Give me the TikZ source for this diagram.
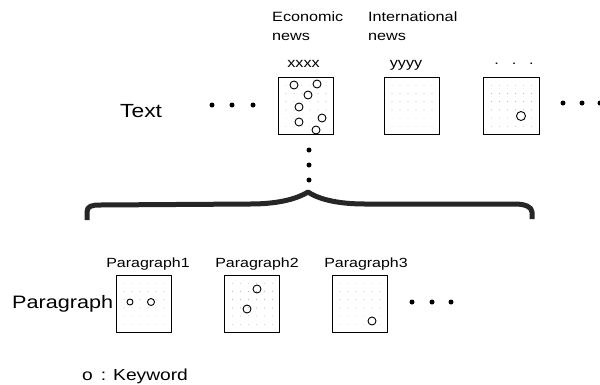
\documentclass[tikz,border=0pt]{standalone}
\usepackage{fontspec}
\setmainfont{Liberation Sans}[FakeStretch=1.2]
\usetikzlibrary{calc}
\begin{document}
\begin{tikzpicture}[x=1pt,y=-1pt,
  tbox/.style={draw, line width=1pt, minimum width=55pt, minimum height=57pt, inner sep=0pt,
    path picture={\foreach \i in {1,...,6}{\foreach \j in {1,...,6}{
      \fill[black!35] ($(path picture bounding box.north west)+(\i*8,\j*8.2)$) circle (0.45pt);}}}},
  kw/.style={draw, line width=0.9pt},
  bdot/.style={fill=black},
  lbl/.style={inner sep=0pt, font=\fontsize{13.5}{16}\selectfont},
  plbl/.style={inner sep=0pt, font=\fontsize{13.3}{16}\selectfont}]
\useasboundingbox (0,0) rectangle (600,384);

% top row boxes
\node[tbox] (econ) at (305.5,105.5) {};
\node[tbox] (intl) at (411.5,105.5) {};
\node[tbox, minimum width=56pt] (other) at (511.5,105.5) {};

% top labels
\node[lbl, anchor=base west] (econA) at (272,21) {Economic};
\node[lbl, anchor=base west] (econB) at (272,40) {news};
\node[lbl, anchor=base west] (intlA) at (368,21) {International};
\node[lbl, anchor=base west] (intlB) at (368,40) {news};
\node[lbl, anchor=base] (xx) at (303.5,67) {xxxx};
\node[lbl, anchor=base] (yy) at (406,67) {yyyy};
\node[lbl, anchor=base] (dd) at (514,64) {.\hspace{13pt}.\hspace{13pt}.};
\node[inner sep=0pt, anchor=base west, font=\fontsize{19}{22}\selectfont] (txt) at (120,117) {Text};

% keywords in top boxes
\foreach \p in {(294,85),(317,84),(308,95),(299,107),(322,118),(299,122),(316,130)}
  \draw[kw] \p circle (4pt);
\draw[kw] (521,116) circle (4.5pt);

% ellipsis dots
\foreach \x in {212,232,253} \fill[bdot] (\x,105) circle (2.5pt);
\foreach \x in {563,582,600} \fill[bdot] (\x,103) circle (2.5pt);
\foreach \y in {150,165,180} \fill[bdot] (309,\y) circle (2.5pt);
\foreach \x in {412,432,451} \fill[bdot] (\x,302) circle (2.5pt);

% brace
\draw[line width=5pt, black!85, line join=round]
  (87,220) -- (87,212) .. controls (87,206) and (92,205) .. (100,205)
  -- (250,204) .. controls (275,204) and (295,200) .. (308,192)
  .. controls (320,200) and (340,204) .. (365,204)
  -- (515,204) .. controls (525,204) and (532,207) .. (532,212) -- (532,219);

% paragraph boxes
\node[tbox] (p1) at (143.5,303.5) {};
\node[tbox] (p2) at (252,303.5) {};
\node[tbox] (p3) at (359.5,303.5) {};
\node[plbl, anchor=base] (p1l) at (148,267) {Paragraph1};
\node[plbl, anchor=base] (p2l) at (257,267) {Paragraph2};
\node[plbl, anchor=base] (p3l) at (366,267) {Paragraph3};
\node[inner sep=0pt, anchor=base west, font=\fontsize{18}{21}\selectfont] (para) at (12,308) {Paragraph};

\draw[kw] (130,302) circle (3pt);
\draw[kw] (151,302) circle (3.5pt);
\draw[kw] (257,289) circle (4pt);
\draw[kw] (247,309) circle (4pt);
\draw[kw] (372,321) circle (4pt);

% legend
\node[inner sep=0pt, anchor=base west, font=\fontsize{16}{19}\selectfont] (legend) at (82,380) {o\hspace{8pt}:\hspace{7pt}Keyword};
\end{tikzpicture}
\end{document}
